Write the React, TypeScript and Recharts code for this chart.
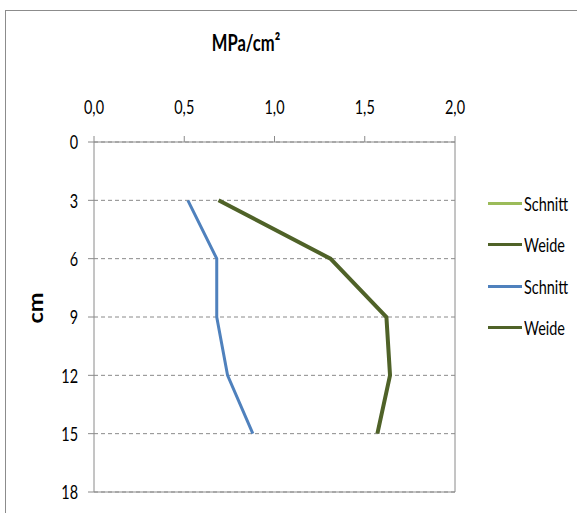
import React from 'react';
import { ScatterChart, Scatter, XAxis, YAxis, CartesianGrid, ReferenceLine } from 'recharts';

const depthsCm = [3, 6, 9, 12, 15];
const schnittValues = [0.52, 0.68, 0.68, 0.74, 0.88];
const weideValues = [0.69, 1.31, 1.62, 1.64, 1.57];
const xTicks = [0, 0.5, 1, 1.5, 2];
const yTicks = [0, 3, 6, 9, 12, 15, 18];
const legendItems = [
  { label: 'Schnitt', color: '#9BBB59' },
  { label: 'Weide', color: '#4F6228' },
  { label: 'Schnitt', color: '#4F81BD' },
  { label: 'Weide', color: '#4F6228' },
];

const schnittData = depthsCm.map((d, i) => ({ x: schnittValues[i], y: d }));
const weideData = depthsCm.map((d, i) => ({ x: weideValues[i], y: d }));

const FONT = "Lato, 'Open Sans', sans-serif";
const SX = 0.76;
const fmt = (v: number) => v.toFixed(1).replace('.', ',');
const noShape = () => <g />;

const XTick = (props: any) => {
  const { x, y, payload } = props;
  return (
    <text transform={`translate(${x},${y}) scale(${SX},1)`} textAnchor="middle" dominantBaseline="central" fontSize={19} fontFamily={FONT} fill="#000">
      {fmt(payload.value)}
    </text>
  );
};

const YTick = (props: any) => {
  const { x, y, payload } = props;
  return (
    <text transform={`translate(${x},${y}) scale(${SX},1)`} textAnchor="end" dominantBaseline="central" fontSize={19} fontFamily={FONT} fill="#000">
      {payload.value}
    </text>
  );
};

export default function App() {
  return (
    <div style={{ position: 'absolute', left: 0, top: 0, width: 577, height: 513, overflow: 'hidden', background: '#fff', fontFamily: FONT }}>
      <div style={{ position: 'absolute', left: 5, top: 10, width: 700, height: 700, border: '1px solid #8c8c8c' }} />
      <ScatterChart
        width={577}
        height={513}
        margin={{ top: 82, left: 30, right: 122, bottom: 21 }}
        style={{ position: 'absolute', left: 0, top: 0 }}
      >
        <CartesianGrid vertical={false} stroke="#8a8a8a" strokeDasharray="4 3" />
        <XAxis
          type="number"
          dataKey="x"
          orientation="top"
          domain={[0, 2]}
          ticks={xTicks}
          height={60}
          tickSize={6}
          tickMargin={29}
          axisLine={{ stroke: '#8a8a8a' }}
          tickLine={{ stroke: '#8a8a8a' }}
          tick={<XTick />}
        />
        <YAxis
          type="number"
          dataKey="y"
          domain={[0, 18]}
          reversed
          ticks={yTicks}
          width={64}
          tickSize={6}
          tickMargin={10}
          axisLine={{ stroke: '#8a8a8a' }}
          tickLine={{ stroke: '#8a8a8a' }}
          tick={<YTick />}
        />
        <ReferenceLine y={18} stroke="#8a8a8a" />
        <ReferenceLine x={2} stroke="#8a8a8a" />
        <Scatter data={schnittData} line={{ stroke: '#4F81BD', strokeWidth: 3 }} lineType="joint" shape={noShape} isAnimationActive={false} />
        <Scatter data={weideData} line={{ stroke: '#4F6228', strokeWidth: 4 }} lineType="joint" shape={noShape} isAnimationActive={false} />
      </ScatterChart>
      <div style={{ position: 'absolute', left: 246, top: 42, transform: 'translate(-50%, -50%) scale(0.72, 1)', fontWeight: 'bold', fontSize: 23, lineHeight: '26px', whiteSpace: 'nowrap' }}>MPa/cm²</div>
      <div style={{ position: 'absolute', left: 35, top: 308, transform: 'translate(-50%, -50%) rotate(-90deg) scale(1.12, 1)', fontWeight: 'bold', fontSize: 21, lineHeight: '24px', whiteSpace: 'nowrap' }}>cm</div>
      {legendItems.map((it, i) => (
        <div key={i} style={{ position: 'absolute', left: 488, top: 203 + i * 41.5 - 12, height: 24, display: 'flex', alignItems: 'center' }}>
          <div style={{ width: 34, height: 3, background: it.color, marginRight: 2 }} />
          <span style={{ fontSize: 19, color: '#000', display: 'inline-block', transform: `scale(${SX}, 1)`, transformOrigin: 'left center', whiteSpace: 'nowrap' }}>{it.label}</span>
        </div>
      ))}
    </div>
  );
}
